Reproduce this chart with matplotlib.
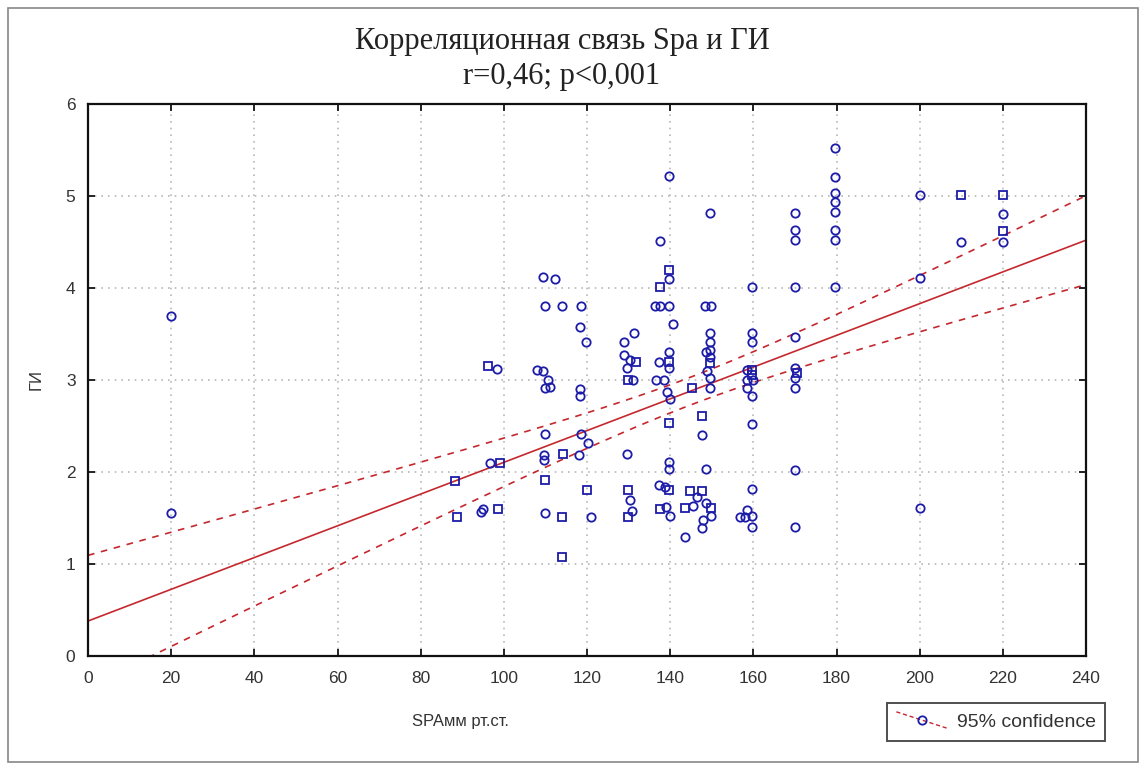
import numpy as np
import matplotlib
matplotlib.use("Agg")
import matplotlib.pyplot as plt
from matplotlib.lines import Line2D
from matplotlib.legend_handler import HandlerBase
from matplotlib.patches import Rectangle

# SPA (мм рт.ст.) and ГИ observations, circle-marked points
spa_circ = [20, 20, 94.5, 95, 98.3, 96.6, 109.4, 112.3, 109.9, 113.9, 118.6,
            107.9, 109.4, 110.6, 109.9, 111, 109.9, 109.6, 109.6, 109.9,
            118.3, 119.7, 118.3, 118.3, 118.6, 120.2, 118.1, 120.9,
            131.3, 128.8, 128.8, 130.3, 129.6, 131.1, 129.6, 130.3, 130.8,
            139.7, 137.5, 139.7, 136.3, 137.5, 139.7, 140.6, 139.7, 137.3, 139.7,
            136.5, 138.5, 139.2, 139.9, 139.7, 139.7, 137.3, 138.7, 138.9, 139.9,
            149.5, 148.3, 149.8, 149.5, 149.5, 149.5, 148.6, 149.5, 148.8, 149.5,
            149.5, 147.6, 148.6, 146.4, 148.6, 149.8, 147.8, 147.6, 143.5, 145.4,
            159.6, 159.6, 159.6, 158.4, 158.4, 159.9, 158.4, 159.6, 159.6, 159.6,
            158.4, 157.9, 159.6, 159.6, 156.7,
            170, 170, 170, 170, 170, 170, 170, 170, 170, 170,
            179.6, 179.6, 179.6, 179.6, 179.6, 179.6, 179.6, 179.6,
            200, 200, 200, 210, 220, 220]
gi_circ = [3.70, 1.55, 1.56, 1.60, 3.12, 2.10, 4.12, 4.10, 3.80, 3.80, 3.80,
           3.11, 3.10, 3.00, 2.91, 2.92, 2.41, 2.18, 2.13, 1.55,
           3.58, 3.41, 2.90, 2.83, 2.41, 2.31, 2.18, 1.51,
           3.51, 3.41, 3.27, 3.22, 3.13, 3.00, 2.20, 1.70, 1.58,
           5.22, 4.51, 4.10, 3.80, 3.80, 3.80, 3.61, 3.30, 3.20, 3.13,
           3.00, 3.00, 2.87, 2.79, 2.11, 2.03, 1.86, 1.84, 1.62, 1.52,
           4.81, 3.80, 3.80, 3.51, 3.41, 3.33, 3.30, 3.25, 3.10, 3.02,
           2.91, 2.40, 2.03, 1.73, 1.66, 1.52, 1.48, 1.39, 1.29, 1.63,
           4.01, 3.51, 3.41, 3.11, 3.00, 3.00, 2.91, 2.83, 2.52, 1.82,
           1.59, 1.51, 1.52, 1.40, 1.51,
           4.81, 4.63, 4.52, 4.01, 3.47, 3.13, 3.02, 2.91, 2.02, 1.40,
           5.52, 5.21, 5.03, 4.93, 4.83, 4.63, 4.52, 4.01,
           5.01, 4.11, 1.61, 4.50, 4.80, 4.50]

# Observations plotted with square markers
spa_sq = [88.2, 88.7, 96.2, 99, 98.6, 114.2, 109.9, 113.9, 113.9, 119.9,
          131.7, 129.8, 129.8, 129.8, 139.7, 137.5, 139.7, 139.7, 139.7, 137.5,
          149.5, 145.2, 147.6, 144.7, 147.6, 149.8, 143.5,
          159.6, 159.6, 170.5, 210, 220, 220]
gi_sq = [1.90, 1.51, 3.15, 2.10, 1.60, 2.20, 1.91, 1.51, 1.08, 1.80,
         3.20, 3.00, 1.80, 1.51, 4.20, 4.01, 3.20, 2.53, 1.80, 1.60,
         3.18, 2.91, 2.61, 1.79, 1.79, 1.61, 1.61,
         3.11, 3.05, 3.08, 5.01, 5.01, 4.62]

# Regression summary for the full sample: ГИ = intercept + slope * SPA,
# with the 95% band of the mean  (half-width at the mean SPA and its growth rate)
fit_intercept = 0.38
fit_slope = 0.01725
spa_mean = 144.8
ci_half_at_mean = 0.151
ci_slope_term = 0.00482

x_ticks = list(range(0, 241, 20))
y_ticks = list(range(0, 7))

title_text = "Корреляционная связь Spa и ГИ\nr=0,46; p<0,001"
x_label = "SPAмм рт.ст."
y_label = "ГИ"
legend_label = "95% confidence"

BLUE = "#1c1ca8"
RED = "#c4282e"

xs = np.linspace(0, 240, 400)
fit = fit_intercept + fit_slope * xs
half = np.sqrt(ci_half_at_mean ** 2 + (ci_slope_term * (xs - spa_mean)) ** 2)

fig = plt.figure(figsize=(11.44, 7.64), dpi=100)
fig.patch.set_facecolor("white")
ax = fig.add_axes([88 / 1144, 1 - 656 / 764, (1086 - 88) / 1144, (656 - 104) / 764])

ax.plot(xs, fit, color=RED, lw=1.2, zorder=2)
ax.plot(xs, fit + half, color=RED, lw=1.2, ls=(0, (4, 4)), zorder=2)
ax.plot(xs, fit - half, color=RED, lw=1.2, ls=(0, (4, 4)), zorder=2)

ax.plot(spa_circ, gi_circ, ls="none", marker="o", ms=6, mfc="none",
        mec=BLUE, mew=1.3, zorder=3)
ax.plot(spa_sq, gi_sq, ls="none", marker="s", ms=6, mfc="none",
        mec=BLUE, mew=1.3, zorder=3)

ax.set_xlim(0, 240)
ax.set_ylim(0, 6)
ax.set_xticks(x_ticks)
ax.set_yticks(y_ticks)
ax.grid(True, color="#b8b8b8", ls=(0, (1, 3)), lw=1.2)
ax.tick_params(direction="in", length=5, width=1.2, top=True, right=True,
               labelsize=12.5, labelcolor="#333333")
ax.tick_params(axis="x", pad=11)
ax.tick_params(axis="y", pad=9)
for lab in ax.get_xticklabels() + ax.get_yticklabels():
    lab.set_family("Liberation Sans")
for sp in ax.spines.values():
    sp.set_linewidth(1.6)
    sp.set_color("#111111")

ax.set_xlabel(x_label, family="Liberation Sans", fontsize=12, color="#333333")
ax.xaxis.set_label_coords(0.373, -0.105)
ax.set_ylabel(y_label, family="Liberation Sans", fontsize=12, color="#333333")
ax.yaxis.set_label_coords(-0.044, 0.5)

fig.text(562 / 1144, 1 - 59 / 764, title_text, ha="center", va="center",
         family="Liberation Serif", fontsize=22, color="#222222", linespacing=1.3)


class DiagonalHandler(HandlerBase):
    def create_artists(self, legend, orig_handle, xdescent, ydescent, width,
                       height, fontsize, trans):
        line = Line2D([0, width], [height * 1.1, -height * 0.1], color=RED,
                      lw=1.0, ls=(0, (3, 2)), transform=trans)
        mark = Line2D([width * 0.5], [height * 0.5], ls="none", marker="o",
                      ms=6, mfc="none", mec=BLUE, mew=1.3, transform=trans)
        return [line, mark]


handle = Line2D([], [], color=RED)
leg = fig.legend([handle], [legend_label], handler_map={Line2D: DiagonalHandler()},
                 loc="center", bbox_to_anchor=(996 / 1144, 1 - 722 / 764),
                 frameon=True, fancybox=False, handlelength=2.6,
                 prop={"family": "Liberation Sans", "size": 14},
                 borderpad=0.5, handletextpad=0.5)
leg.get_frame().set_edgecolor("#222222")
leg.get_frame().set_linewidth(1.4)
for txt in leg.get_texts():
    txt.set_color("#333333")

fig.patches.append(Rectangle((8 / 1144, 2 / 764), 1130 / 1144, 754 / 764,
                             transform=fig.transFigure, fill=False,
                             edgecolor="#888888", lw=1.2))

fig.savefig("out.png", dpi=100, facecolor="white")
